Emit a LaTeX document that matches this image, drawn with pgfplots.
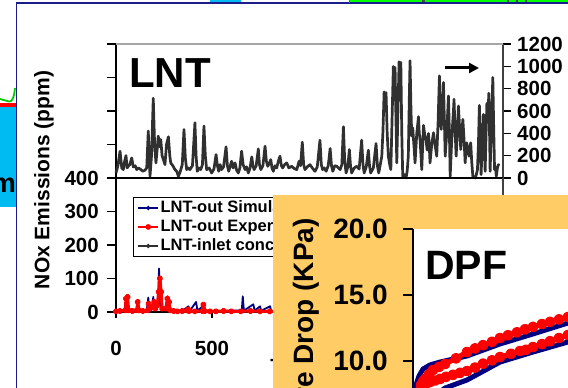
\documentclass[border=0pt]{standalone}
\usepackage{fontspec}
\setmainfont{Liberation Sans}
\usepackage{pgfplots}
\pgfplotsset{compat=1.18}
\usetikzlibrary{arrows.meta}

\definecolor{simnavy}{HTML}{000080}
\definecolor{exred}{HTML}{FF0000}
\definecolor{inletgray}{HTML}{303030}
\definecolor{dpforange}{HTML}{FFCC66}
\definecolor{slidecyan}{HTML}{00BBF2}
\definecolor{framenavy}{HTML}{1C1C8C}
\definecolor{stripgreen}{HTML}{00FF00}

\newcommand\tickfont{\bfseries\fontsize{20.5}{24}\selectfont}
\newcommand\bigtickfont{\bfseries\fontsize{28}{32}\selectfont}

\begin{document}
\begin{tikzpicture}
\path[use as bounding box, clip] (0pt,0pt) rectangle (568pt,388pt);

% ---------------- LNT: outlet NOx (left axis) ----------------
\begin{axis}[
  at={(116pt,76pt)}, anchor=south west, scale only axis,
  width=387pt, height=268pt,
  xmin=0, xmax=2015, ymin=0, ymax=800,
  clip=false,
  axis x line*=bottom, axis y line*=left,
  axis line style={line width=1.2pt, black},
  xtick={0,500,1000,1500,2000},
  ytick={0,100,200,300,400,500,600,700,800},
  yticklabels={0,100,200,300,400,,,,},
  tick align=outside,
  major tick length=9pt,
  xtick style={/pgfplots/major tick length=6pt, line width=1.1pt, black},
  ytick style={line width=1.1pt, black},
  /pgf/number format/assume math mode=true,
  /pgf/number format/1000 sep={},
  tick label style={font=\tickfont, inner sep=0pt},
  xticklabel style={yshift=-20pt},
  yticklabel style={xshift=-8pt},
]
\addplot[simnavy, line width=1.8pt, line join=round] coordinates {
(0,3)(40,5)(50,10)(56,40)(62,5)(100,4)(110,8)(116,25)(122,4)(160,5)(168,43)(174,5)
(188,8)(194,45)(200,10)(210,20)(218,15)(224,130)(230,20)(240,10)(255,8)(269,47)
(276,20)(290,5)(320,3)(350,5)(377,17)(385,4)(417,30)(424,4)(458,20)(465,4)(500,3)
(540,3)(600,4)(655,5)(660,47)(666,4)(715,23)(722,4)(750,17)(756,4)(802,17)(808,4)
(900,3)(1000,5)(1200,4)(1500,6)(1800,4)(2000,3)};
\addplot[exred, line width=3pt, line join=round, mark=*, mark size=1.7pt] coordinates {
(0,2)(20,3)(48,5)(52,40)(60,45)(66,5)(85,3)(108,5)(113,30)(120,5)(140,3)(165,5)(170,25)
(178,10)(190,15)(198,30)(205,10)(215,20)(222,60)(229,100)(235,60)(240,10)(260,10)
(268,40)(276,30)(282,5)(300,3)(320,2)(345,3)(370,5)(375,8)(380,3)(410,2)(450,3)
(455,22)(462,3)(490,2)(520,2)(560,3)(600,2)(650,2)(700,3)(750,2)(800,2)(1000,3)
(1500,3)(2000,2)};
\end{axis}

% ---------------- LNT: inlet NOx (right axis) ----------------
\begin{axis}[
  at={(116pt,210pt)}, anchor=south west, scale only axis,
  width=387pt, height=134pt,
  xmin=0, xmax=2015, ymin=0, ymax=1200,
  clip=false,
  axis x line=none, axis y line*=right,
  axis line style={line width=1.2pt, black!75},
  ytick={0,200,...,1200},
  tick align=outside,
  major tick length=8pt,
  ytick style={line width=1.1pt, black},
  /pgf/number format/assume math mode=true,
  /pgf/number format/1000 sep={},
  tick label style={font=\tickfont, inner sep=0pt},
  yticklabel style={xshift=6pt},
  legend image code/.code={\draw[mark repeat=2,mark phase=2,#1] plot coordinates {(0pt,0pt) (10pt,0pt) (20pt,0pt)};},
  legend cell align=left,
  legend style={at={(0.0439,-0.1418)}, anchor=north west, draw=black, line width=0.9pt,
    fill=white, font=\bfseries\fontsize{16.5}{18}\selectfont,
    inner xsep=4pt, inner ysep=1.5pt, row sep=1pt,
    nodes={inner sep=1.5pt, text height=12pt, text depth=3pt}},
]
\addlegendimage{simnavy, line width=1.6pt, mark=*, mark size=1.3pt}
\addlegendentry{LNT-out Simulation}
\addlegendimage{exred, line width=1.6pt, mark=*, mark size=2pt}
\addlegendentry{LNT-out Experiment}
\addlegendimage{inletgray, line width=1.6pt, mark=*, mark size=1.2pt}
\addlegendentry{LNT-inlet concentration}
\addplot[inletgray, line width=2.7pt, line join=round, forget plot] coordinates {
(0,45)(10,110)(21,240)(30,90)(38,75)(45,150)(52,201)(58,90)(64,105)(72,120)(82,180)
(90,99)(100,110)(108,75)(116,90)(125,81)(140,60)(151,70)(160,90)(168,420)(177,15)
(185,200)(194,714)(201,300)(208,135)(214,250)(220,375)(227,280)(233,345)(240,200)
(247,165)(255,120)(263,300)(273,369)(280,200)(285,135)(296,110)(307,75)(316,60)
(325,15)(335,60)(345,120)(354,435)(361,180)(368,75)(376,90)(385,75)(398,110)
(411,495)(417,200)(423,60)(432,90)(441,75)(450,120)(458,465)(465,200)(472,75)
(485,90)(498,45)(510,80)(521,210)(528,110)(535,60)(542,120)(550,75)(560,100)
(573,279)(580,110)(587,60)(595,110)(602,150)(610,90)(620,135)(628,70)(637,45)
(645,90)(654,240)(662,120)(672,75)(680,100)(689,45)(698,90)(707,189)(713,110)
(719,75)(730,110)(741,261)(747,120)(754,75)(765,110)(776,285)(783,150)(790,105)
(798,130)(806,165)(812,90)(819,60)(828,110)(837,90)(845,150)(854,195)(861,110)
(868,90)(878,120)(889,135)(900,90)(915,105)(928,85)(941,75)(947,110)(953,150)
(961,110)(970,321)(977,120)(984,75)(996,100)(1010,120)(1022,90)(1036,60)(1048,100)
(1062,339)(1069,120)(1076,75)(1085,90)(1094,60)(1105,110)(1115,264)(1122,110)
(1129,60)(1139,110)(1149,105)(1158,90)(1167,75)(1176,120)(1184,459)(1191,150)
(1198,45)(1207,100)(1215,255)(1221,110)(1227,45)(1240,90)(1253,105)(1266,80)
(1279,339)(1286,120)(1292,45)(1303,100)(1314,249)(1320,110)(1326,45)(1340,90)
(1354,309)(1361,110)(1368,45)(1376,120)(1384,195)(1390,420)(1396,771)(1401,600)
(1406,765)(1412,400)(1418,195)(1425,120)(1431,75)(1437,500)(1444,999)(1449,700)
(1453,990)(1458,500)(1462,135)(1468,600)(1474,1041)(1479,800)(1483,1035)(1488,400)
(1493,15)(1502,30)(1510,0)(1516,60)(1522,195)(1527,700)(1531,1050)(1536,600)
(1540,375)(1545,450)(1549,345)(1553,250)(1557,135)(1566,400)(1575,549)(1579,400)
(1583,345)(1588,200)(1592,75)(1597,300)(1601,471)(1608,380)(1614,345)(1620,250)
(1627,399)(1631,300)(1635,135)(1644,300)(1653,405)(1661,300)(1670,195)(1677,500)
(1684,915)(1688,650)(1693,435)(1699,600)(1705,855)(1710,500)(1714,195)(1722,400)
(1731,735)(1736,400)(1740,15)(1747,300)(1754,525)(1757,600)(1760,705)(1765,450)
(1771,195)(1777,400)(1783,645)(1789,450)(1795,255)(1800,400)(1806,525)(1812,350)
(1818,135)(1822,250)(1826,315)(1832,250)(1838,195)(1843,280)(1847,315)(1852,150)
(1858,15)(1864,10)(1870,0)(1876,30)(1882,75)(1887,300)(1892,651)(1897,350)
(1901,30)(1907,300)(1913,570)(1918,300)(1922,60)(1927,400)(1931,669)(1936,500)
(1941,759)(1945,400)(1948,60)(1955,500)(1962,900)(1966,500)(1971,75)(1976,100)
(1980,15)(1986,90)(1991,120)(1995,110)};
% panel frame: separator and top rule
\draw[black, line width=1.2pt] (rel axis cs:0,0) -- (rel axis cs:1,0);
\draw[black!35, line width=1.2pt] (rel axis cs:0,1) -- (rel axis cs:1,1);
\end{axis}

% right axis continues down the lower panel
\draw[black!75, line width=1.2pt] (503pt,76pt) -- (503pt,210pt);

% x-axis title (mostly behind the DPF panel)
\node[anchor=north, inner sep=0pt, font=\tickfont] at (309.6pt,30pt) {Time (s)};

% y-axis title
\node[rotate=90, inner sep=0pt, font=\bfseries\fontsize{21}{24}\selectfont] at (44pt,208pt) {NOx Emissions (ppm)};

% panel title and arrow
\node[anchor=base west, inner sep=0pt, font=\bfseries\fontsize{42}{46}\selectfont] at (129pt,300pt) {LNT};
\draw[line width=3pt, -{Triangle[length=10pt,width=10pt]}] (445pt,320pt) -- (479pt,320pt);

% ---------------- DPF inset ----------------
\fill[dpforange] (273pt,0pt) rectangle (570pt,193pt);
\fill[white] (413pt,0pt) rectangle (570pt,159pt);
\begin{axis}[
  at={(413pt,-39pt)}, anchor=south west, scale only axis,
  width=300pt, height=198pt,
  xmin=0, xmax=3000, ymin=5, ymax=20,
  axis x line=none, axis y line*=left,
  axis line style={line width=1.2pt, black},
  ytick={5,10,15,20},
  tick align=outside,
  major tick length=10pt,
  ytick style={line width=1.1pt, black},
  /pgf/number format/assume math mode=true,
  /pgf/number format/.cd, fixed, fixed zerofill, precision=1, /pgfplots/.cd,
  tick label style={font=\bigtickfont, inner sep=0pt},
  yticklabel style={xshift=-15pt},
]
\addplot[simnavy, line width=5pt, line join=round, line cap=round] coordinates {
(10,7.42)(30,8.18)(60,8.86)(100,9.39)(170,9.70)(270,9.92)(540,10.38)(870,11.29)
(1200,12.05)(1550,12.88)(1870,13.64)};
\addplot[simnavy, line width=5pt, line join=round, line cap=round] coordinates {
(270,7.65)(320,7.95)(540,8.56)(870,9.92)(1200,10.68)(1550,11.44)(1870,12.20)};
\addplot[exred, line width=5pt, line join=round, mark=*, mark size=2.9pt] coordinates {
(60,7.65)(80,8.18)(100,8.45)(120,8.64)(160,9.00)(200,9.32)(260,9.55)(320,9.77)(430,10.20)
(540,10.68)(620,10.95)(700,11.20)(790,11.45)(870,11.74)(950,11.95)(1040,12.17)
(1120,12.40)(1200,12.58)(1290,12.80)(1370,12.96)(1460,13.15)(1550,13.33)(1700,13.70)(1870,14.09)};
\addplot[exred, line width=5pt, line join=round, mark=*, mark size=2.9pt] coordinates {
(80,7.95)(110,8.26)(140,8.33)(170,8.41)(220,8.52)(270,8.64)(330,8.80)(400,8.95)(470,9.10)
(540,9.24)(620,9.50)(700,9.80)(790,10.05)(870,10.30)(980,10.55)(1070,10.76)(1130,10.85)
(1200,11.06)(1290,11.28)(1370,11.50)(1460,11.74)(1550,11.97)(1700,12.35)(1870,12.73)};
\end{axis}
\node[anchor=base west, inner sep=0pt, font=\bfseries\fontsize{41}{45}\selectfont] at (425pt,108pt) {DPF};
\node[rotate=90, anchor=east, inner sep=0pt, font=\bfseries\fontsize{28}{32}\selectfont] at (306pt,170pt) {Pressure Drop (KPa)};

% ---------------- slide surroundings ----------------
\fill[slidecyan] (0pt,181pt) rectangle (16pt,283pt);
\fill[exred] (0pt,281pt) rectangle (16pt,285pt);
\draw[stripgreen!80!black, line width=1.8pt] (0pt,289pt) -- (9pt,286.5pt) .. controls (12pt,286pt) and (14pt,290pt) .. (15pt,300pt);
\node[anchor=base east, inner sep=0pt, font=\bfseries\fontsize{27}{30}\selectfont] at (16pt,195pt) {m};
\fill[slidecyan] (210pt,385pt) rectangle (241pt,388pt);
\fill[stripgreen] (349pt,385.5pt) rectangle (568pt,388pt);
\fill[black!70] (422pt,386pt) rectangle (425pt,388pt);
\fill[black!70] (507pt,386pt) rectangle (509pt,388pt);
\fill[black!70] (516pt,386pt) rectangle (518pt,388pt);
\fill[black!70] (525pt,386pt) rectangle (527pt,388pt);
\draw[framenavy, line width=1.6pt] (16.5pt,0pt) -- (16.5pt,385pt) -- (568pt,385pt);
\draw[magenta!70!black, line width=1pt] (349pt,385pt) -- (349pt,388pt);
\end{tikzpicture}
\end{document}
